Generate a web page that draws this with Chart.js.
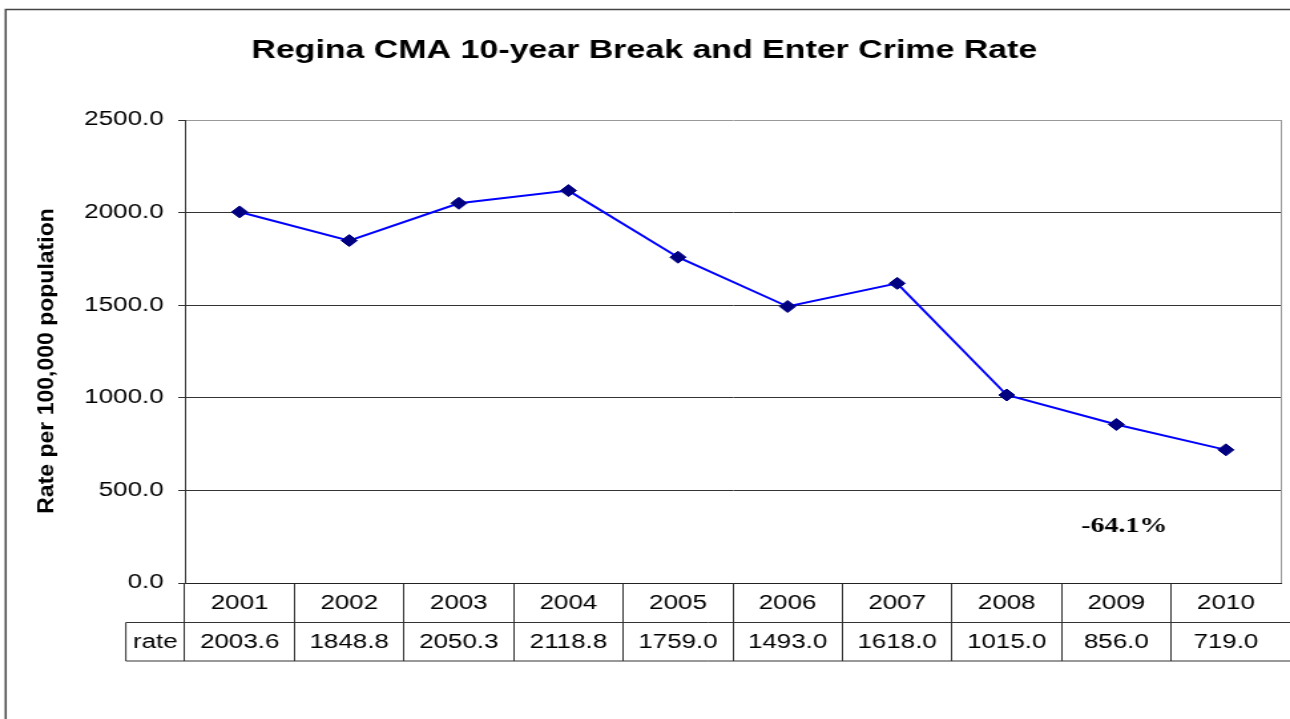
<!DOCTYPE html>
<html>
<head>
<meta charset="utf-8">
<title>Regina CMA 10-year Break and Enter Crime Rate</title>
<script src="https://cdn.jsdelivr.net/npm/chart.js@4"></script>
<style>
	html, body { margin: 0; padding: 0; background: #fff; overflow: hidden; }
	/* the original picture is stretched sideways, so the chart is drawn narrow and widened */
	#wrap { width: 970px; height: 719px; transform: scaleX(1.32990); transform-origin: 0 0; }
</style>
</head>
<body>
<div id="wrap"><canvas id="myChart"></canvas></div>
<script>
var years = ["2001", "2002", "2003", "2004", "2005", "2006", "2007", "2008", "2009", "2010"];
var rates = [2003.6, 1848.8, 2050.3, 2118.8, 1759.0, 1493.0, 1618.0, 1015.0, 856.0, 719.0];
var yTicks = [0, 500, 1000, 1500, 2000, 2500];
var seriesName = "rate";
var chartTitle = "Regina CMA 10-year Break and Enter Crime Rate";
var yTitle = "Rate per 100,000 population";

var S = 1290 / 970;
var sans = '"Liberation Sans", Arial, sans-serif';
var change = ((rates[rates.length - 1] - rates[0]) / rates[0] * 100).toFixed(1) + "%";

Chart.defaults.font.family = sans;
Chart.defaults.color = "#000";

// frame, y title, data table and the change note
var extras = {
	id: "extras",
	beforeDraw: function(chart) {
		var ctx = chart.ctx;
		ctx.save();
		ctx.strokeStyle = "#444";
		ctx.lineWidth = 1.5;
		ctx.beginPath();
		ctx.moveTo(4.3, chart.height);
		ctx.lineTo(4.3, 9.5);
		ctx.lineTo(chart.width, 9.5);
		ctx.stroke();

		ctx.translate(47 / S, 361);
		ctx.scale(1 / S, 1);
		ctx.rotate(-Math.PI / 2);
		ctx.font = "bold 23px " + sans;
		ctx.fillStyle = "#000";
		ctx.textAlign = "center";
		ctx.textBaseline = "middle";
		ctx.fillText(yTitle, 0, 0);
		ctx.restore();
	},
	afterDraw: function(chart) {
		var ctx = chart.ctx;
		var a = chart.chartArea;
		var xs = chart.scales.x, ys = chart.scales.y;
		var rowTop = xs.top;
		var rowMid = rowTop + 39.5;
		var rowBot = rowTop + 78;
		var labelLeft = a.left - 44.4;

		ctx.save();
		ctx.strokeStyle = "#999";
		ctx.lineWidth = 1;
		ctx.beginPath();
		ctx.moveTo(a.right + 0.5, a.top);
		ctx.lineTo(a.right + 0.5, a.bottom);
		ctx.stroke();

		ctx.strokeStyle = "#333";
		ctx.beginPath();
		ctx.moveTo(labelLeft, rowMid);
		ctx.lineTo(chart.width, rowMid);
		ctx.moveTo(labelLeft, rowBot);
		ctx.lineTo(chart.width, rowBot);
		ctx.moveTo(labelLeft, rowMid);
		ctx.lineTo(labelLeft, rowBot);
		ctx.stroke();

		ctx.font = "19.5px " + sans;
		ctx.fillStyle = "#000";
		ctx.textAlign = "center";
		ctx.textBaseline = "middle";
		var ty = (rowMid + rowBot) / 2 + 1;
		ctx.fillText(seriesName, (labelLeft + a.left) / 2, ty);
		for (var i = 0; i < rates.length; i++) {
			ctx.fillText(rates[i].toFixed(1), xs.getPixelForValue(i), ty);
		}

		ctx.font = 'bold 21px "Liberation Serif", "Times New Roman", serif';
		ctx.fillText(change, xs.getPixelForValue(8) + 6, ys.getPixelForValue(305));
		ctx.restore();
	}
};

var ctx = document.getElementById("myChart").getContext("2d");
var myChart = new Chart(ctx, {
	type: "line",
	data: {
		labels: years,
		datasets: [{
			label: seriesName,
			data: rates,
			borderColor: "#0000ff",
			borderWidth: 2,
			pointStyle: "rectRot",
			pointRadius: 6,
			pointBackgroundColor: "#000080",
			pointBorderColor: "#000080",
			pointBorderWidth: 1,
			tension: 0
		}]
	},
	options: {
		responsive: true,
		maintainAspectRatio: false,
		animation: false,
		events: [],
		layout: { padding: { left: 0, right: 1, top: 0, bottom: 0 } },
		plugins: {
			legend: { display: false },
			tooltip: { enabled: false },
			title: {
				display: true,
				text: chartTitle,
				color: "#000",
				font: { size: 25.5, weight: "bold", family: sans },
				padding: { top: 36, bottom: 53.4 }
			}
		},
		scales: {
			x: {
				type: "category",
				offset: true,
				afterFit: function(scale) { scale.height = 136; },
				grid: {
					display: true,
					drawOnChartArea: false,
					drawTicks: true,
					tickLength: 78,
					offset: true,
					color: function(c) { return c.tick ? "#333" : "rgba(0,0,0,0)"; }
				},
				border: { display: true, color: "#222", width: 1 },
				ticks: {
					autoSkip: false,
					maxRotation: 0,
					padding: -68.7,
					color: "#000",
					font: { size: 19.5, family: sans }
				}
			},
			y: {
				min: yTicks[0],
				max: yTicks[yTicks.length - 1],
				afterFit: function(scale) { scale.width = 139; },
				afterBuildTicks: function(scale) {
					scale.ticks = yTicks.map(function(v) { return { value: v }; });
				},
				grid: {
					color: function(c) { return c.tick && c.tick.value === yTicks[yTicks.length - 1] ? "#999" : "#333"; },
					tickColor: "#333",
					tickLength: 5,
					lineWidth: 1
				},
				border: { display: true, color: "#333", width: 1 },
				ticks: {
					padding: 11,
					color: "#000",
					font: { size: 19.5, family: sans },
					callback: function(v) { return Number(v).toFixed(1); }
				}
			}
		}
	},
	plugins: [extras]
});
</script>
</body>
</html>
